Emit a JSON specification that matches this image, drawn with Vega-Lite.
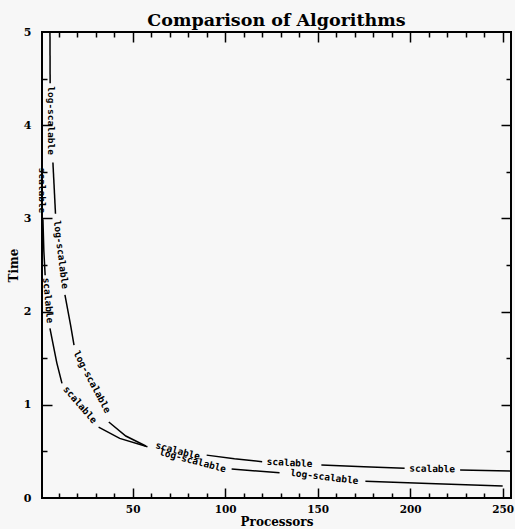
{
  "$schema": "https://vega.github.io/schema/vega-lite/v6.json",
  "width": 469,
  "height": 466,
  "autosize": "none",
  "padding": {"left": 42, "top": 32, "right": 4, "bottom": 31},
  "background": "#f7f7f7",
  "title": {"text": "Comparison of Algorithms", "font": "DejaVu Serif", "fontSize": 17.5, "fontWeight": "bold", "color": "black", "offset": -3, "anchor": "middle"},
  "config": {
    "view": {"stroke": "black", "strokeWidth": 2},
    "axis": {"domain": false, "grid": false, "tickColor": "black", "tickWidth": 1.5, "labelColor": "black", "titleColor": "black", "labelFont": "DejaVu Serif", "labelFontWeight": "bold", "labelFontSize": 11, "titleFont": "DejaVu Serif", "titleFontWeight": "bold", "titleFontSize": 12}
  },
  "datasets": {
    "curves": [
      {"seg": "s1", "P": 1.0, "T": 5.0}, {"seg": "s1", "P": 1.05, "T": 3.62},
      {"seg": "s2", "P": 1.5, "T": 2.99}, {"seg": "s2", "P": 2.0, "T": 2.65}, {"seg": "s2", "P": 2.7, "T": 2.39},
      {"seg": "s3", "P": 5.3, "T": 1.82}, {"seg": "s3", "P": 6.5, "T": 1.70}, {"seg": "s3", "P": 9, "T": 1.45}, {"seg": "s3", "P": 11.8, "T": 1.23},
      {"seg": "s4", "P": 31.6, "T": 0.76}, {"seg": "s4", "P": 43, "T": 0.64}, {"seg": "s4", "P": 58, "T": 0.55},
      {"seg": "s5", "P": 90, "T": 0.46}, {"seg": "s5", "P": 105, "T": 0.42}, {"seg": "s5", "P": 120, "T": 0.39},
      {"seg": "s6", "P": 152, "T": 0.354}, {"seg": "s6", "P": 175, "T": 0.335}, {"seg": "s6", "P": 197, "T": 0.32},
      {"seg": "s7", "P": 227, "T": 0.30}, {"seg": "s7", "P": 254.5, "T": 0.29},
      {"seg": "l1", "P": 5.3, "T": 5.0}, {"seg": "l1", "P": 5.4, "T": 4.45},
      {"seg": "l2", "P": 6.9, "T": 3.6}, {"seg": "l2", "P": 8.3, "T": 3.05},
      {"seg": "l3", "P": 13.4, "T": 2.18}, {"seg": "l3", "P": 16.5, "T": 1.85}, {"seg": "l3", "P": 18.3, "T": 1.64},
      {"seg": "l4", "P": 37.1, "T": 0.815}, {"seg": "l4", "P": 46.3, "T": 0.665}, {"seg": "l4", "P": 57.1, "T": 0.558},
      {"seg": "l5", "P": 103.5, "T": 0.31}, {"seg": "l5", "P": 129.4, "T": 0.27},
      {"seg": "l6", "P": 175.8, "T": 0.18}, {"seg": "l6", "P": 210, "T": 0.155}, {"seg": "l6", "P": 250, "T": 0.13}
    ],
    "labels": [
      {"lab": "scalable", "P": 1.05, "T": 3.30, "ang": 90},
      {"lab": "scalable", "P": 4.2, "T": 2.12, "ang": 85},
      {"lab": "scalable", "P": 21.5, "T": 1.0, "ang": 49},
      {"lab": "scalable", "P": 74.4, "T": 0.504, "ang": 15},
      {"lab": "scalable", "P": 134.8, "T": 0.376, "ang": 3},
      {"lab": "scalable", "P": 211.9, "T": 0.311, "ang": 1},
      {"lab": "log-scalable", "P": 5.85, "T": 4.05, "ang": 90},
      {"lab": "log-scalable", "P": 11.2, "T": 2.61, "ang": 83},
      {"lab": "log-scalable", "P": 28, "T": 1.245, "ang": 62},
      {"lab": "log-scalable", "P": 82.4, "T": 0.40, "ang": 15},
      {"lab": "log-scalable", "P": 153.6, "T": 0.225, "ang": 7}
    ]
  },
  "resolve": {"axis": {"x": "independent", "y": "independent"}},
  "layer": [
    {
      "data": {"name": "curves"},
      "mark": {"type": "line", "color": "black", "strokeWidth": 1.5, "clip": true},
      "encoding": {
        "x": {"field": "P", "type": "quantitative", "scale": {"domain": [1, 254.5], "nice": false, "zero": false},
              "axis": {"orient": "bottom", "ticks": false, "values": [50, 100, 150, 200, 250], "labelPadding": 6, "labelFontSize": 10.5, "title": "Processors", "titlePadding": 2}},
        "y": {"field": "T", "type": "quantitative", "scale": {"domain": [0, 5], "nice": false},
              "axis": {"orient": "left", "ticks": false, "values": [0, 1, 2, 3, 4, 5], "labelPadding": 11, "title": "Time", "titlePadding": 3}},
        "detail": {"field": "seg"}
      }
    },
    {
      "data": {"name": "labels"},
      "mark": {"type": "text", "font": "DejaVu Sans Mono", "fontWeight": "bold", "fontSize": 9.5, "color": "black", "align": "center", "baseline": "middle"},
      "encoding": {
        "x": {"field": "P", "type": "quantitative", "scale": {"domain": [1, 254.5], "nice": false, "zero": false},
              "axis": {"orient": "bottom", "labels": false, "title": null, "values": [50, 100, 150, 200, 250], "tickSize": -10}},
        "y": {"field": "T", "type": "quantitative", "scale": {"domain": [0, 5], "nice": false},
              "axis": {"orient": "left", "labels": false, "title": null, "values": [1, 2, 3, 4], "tickSize": -10}},
        "text": {"field": "lab"},
        "angle": {"field": "ang", "type": "quantitative", "scale": null}
      }
    },
    {
      "data": {"name": "curves"},
      "mark": {"type": "line", "opacity": 0},
      "encoding": {
        "x": {"field": "P", "type": "quantitative", "scale": {"domain": [1, 254.5], "nice": false, "zero": false},
              "axis": {"orient": "bottom", "labels": false, "title": null, "values": [10, 20, 30, 40, 60, 70, 80, 90, 110, 120, 130, 140, 160, 170, 180, 190, 210, 220, 230, 240], "tickSize": -5}},
        "y": {"field": "T", "type": "quantitative", "scale": {"domain": [0, 5], "nice": false},
              "axis": {"orient": "left", "labels": false, "title": null, "values": [0.5, 1.5, 2.5, 3.5, 4.5], "tickSize": -5}},
        "detail": {"field": "seg"}
      }
    },
    {
      "data": {"name": "curves"},
      "mark": {"type": "line", "opacity": 0},
      "encoding": {
        "x": {"field": "P", "type": "quantitative", "scale": {"domain": [1, 254.5], "nice": false, "zero": false},
              "axis": {"orient": "top", "labels": false, "title": null, "values": [50, 100, 150, 200, 250], "tickSize": -10}},
        "y": {"field": "T", "type": "quantitative", "scale": {"domain": [0, 5], "nice": false},
              "axis": {"orient": "right", "labels": false, "title": null, "values": [1, 2, 3, 4], "tickSize": -10}},
        "detail": {"field": "seg"}
      }
    },
    {
      "data": {"name": "curves"},
      "mark": {"type": "line", "opacity": 0},
      "encoding": {
        "x": {"field": "P", "type": "quantitative", "scale": {"domain": [1, 254.5], "nice": false, "zero": false},
              "axis": {"orient": "top", "labels": false, "title": null, "values": [10, 20, 30, 40, 60, 70, 80, 90, 110, 120, 130, 140, 160, 170, 180, 190, 210, 220, 230, 240], "tickSize": -5}},
        "y": {"field": "T", "type": "quantitative", "scale": {"domain": [0, 5], "nice": false},
              "axis": {"orient": "right", "labels": false, "title": null, "values": [0.5, 1.5, 2.5, 3.5, 4.5], "tickSize": -5}},
        "detail": {"field": "seg"}
      }
    }
  ]
}
